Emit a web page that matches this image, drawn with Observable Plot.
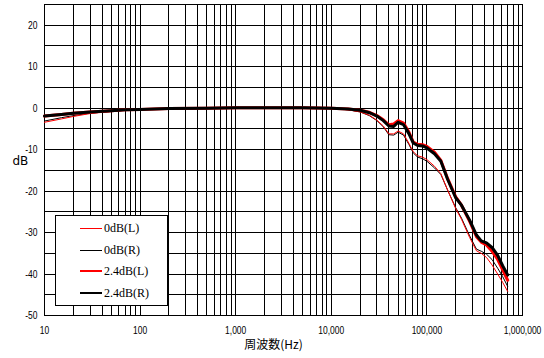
<!DOCTYPE html>
<html><head><meta charset="utf-8">
<script src="https://cdn.jsdelivr.net/npm/d3@7"></script>
<script src="https://cdn.jsdelivr.net/npm/@observablehq/plot@0.6"></script>
<style>
body{margin:0;background:#fff;}
#wrap{position:relative;width:544px;height:358px;}
#legend{position:absolute;left:55px;top:215px;width:113px;height:91px;border:1px solid #000;background:#fff;box-sizing:border-box;font-family:"Liberation Serif","DejaVu Serif",serif;font-size:12px;color:#000;}
.row{position:absolute;left:0;height:14px;}
.sw{position:absolute;left:24px;width:22px;}
.lab{position:absolute;left:48px;white-space:nowrap;line-height:14px;}
</style></head><body><div id="wrap"></div>
<script>
const freq = [10, 15, 20, 30, 50, 70, 100, 200, 500, 1000, 2000, 5000, 10000, 15000, 20000, 25000, 30000, 35000, 40000, 45000, 50000, 57000, 65000, 72000, 80000, 90000, 100000, 120000, 140000, 165000, 200000, 230000, 280000, 330000, 370000, 420000, 480000, 550000, 620000, 700000];
const db0L = [-3.4, -2.6, -2.0, -1.3, -0.8, -0.5, -0.3, -0.1, 0, 0, 0, 0, 0, -0.4, -0.9, -1.7, -2.9, -4.3, -6.2, -6.2, -5.5, -6.2, -8.5, -10.5, -11.5, -11.8, -12.4, -14.0, -15.8, -19.8, -24.2, -26.8, -31.2, -34.4, -35.0, -36.0, -37.8, -40.0, -42.0, -44.2];
const db0R = [-3.1, -2.3, -1.8, -1.2, -0.8, -0.5, -0.3, -0.1, 0, 0, 0, 0, 0, -0.4, -0.9, -1.8, -3.0, -4.5, -6.4, -6.5, -5.8, -6.5, -8.8, -10.8, -11.8, -12.2, -12.8, -14.4, -16.0, -19.8, -24.0, -26.5, -30.8, -34.0, -34.5, -35.2, -36.5, -38.6, -40.6, -43.0];
const db24L = [-1.9, -1.5, -1.2, -0.9, -0.6, -0.4, -0.3, -0.1, 0, 0.1, 0.1, 0.1, 0, -0.2, -0.5, -1.0, -1.8, -2.8, -4.0, -3.8, -3.0, -3.6, -5.8, -8.2, -8.7, -8.8, -9.2, -10.6, -12.6, -17.0, -21.4, -23.4, -27.3, -31.0, -32.3, -33.0, -34.5, -36.5, -39.0, -41.5];
const db24R = [-1.9, -1.5, -1.2, -0.9, -0.6, -0.4, -0.3, -0.1, 0, 0.1, 0.1, 0.1, 0, -0.2, -0.5, -1.1, -1.9, -3.0, -4.3, -4.4, -3.4, -4.0, -6.2, -8.4, -9.0, -9.1, -9.6, -11.0, -12.8, -17.2, -21.6, -23.4, -27.0, -30.6, -32.0, -32.5, -33.6, -35.5, -38.0, -40.2];
const seriesNames = ["0dB(L)", "0dB(R)", "2.4dB(L)", "2.4dB(R)"];
const xTickValues = [10, 100, 1000, 10000, 100000, 1000000];
const yTickValues = [20, 10, 0, -10, -20, -30, -40, -50];

const seriesValues = [db0L, db0R, db24L, db24R];
const colors = ["#ff0000", "#000000", "#ff0000", "#000000"];
const widths = [1, 1, 3, 3];
const legendWidths = [1, 1, 2, 2];
const drawOrder = [1, 0, 2, 3];

const xGrid = [];
for (let d = 10; d < 1e6; d *= 10) for (let m = 1; m < 10; m++) xGrid.push(m * d);
xGrid.push(1e6);
const yGrid = d3.range(-50, 26, 5);

const rows = [];
seriesNames.forEach((name, i) => freq.forEach((f, j) => rows.push({f, v: seriesValues[i][j], name})));

const lineMarks = drawOrder.map(i => Plot.line(rows.filter(r => r.name === seriesNames[i]), {
  x: "f", y: "v", stroke: colors[i], strokeWidth: widths[i], strokeLinejoin: "round"
}));

const chart = Plot.plot({
  width: 544, height: 358,
  marginLeft: 44, marginRight: 22, marginTop: 4, marginBottom: 43,
  x: {type: "log", domain: [10, 1e6]},
  y: {domain: [-50, 25]},
  style: {fontFamily: "'Liberation Sans',sans-serif", fontSize: "11px", background: "#fff", color: "#000"},
  marks: [
    Plot.ruleX(xGrid, {stroke: "#000", strokeWidth: 1, shapeRendering: "crispEdges"}),
    Plot.ruleY(yGrid, {stroke: "#000", strokeWidth: 1, shapeRendering: "crispEdges"}),
    Plot.frame({stroke: "#000", shapeRendering: "crispEdges"}),
    Plot.axisX({ticks: xTickValues, tickFormat: d3.format(","), tickSize: 0, tickPadding: 11, label: null, fontSize: 11}),
    Plot.axisY({ticks: yTickValues, tickFormat: d => String(d), tickSize: 0, tickPadding: 7, label: null, fontSize: 11}),
    ...lineMarks,
    Plot.text(["周波数(Hz)"], {frameAnchor: "bottom", dy: 33, dx: -10, fontSize: 12, fontFamily: "'Noto Sans CJK JP',sans-serif"}),
    Plot.text(["dB"], {frameAnchor: "left", dx: -32, dy: 1, fontSize: 12, fontFamily: "'DejaVu Sans',sans-serif"})
  ]
});
// condense the tick labels horizontally like the narrow bitmap font of the original
d3.select(chart).selectAll('g[aria-label="x-axis tick label"] text, g[aria-label="y-axis tick label"] text')
  .attr("transform", function() { return (this.getAttribute("transform") || "") + " scale(0.77,1)"; });

const wrap = document.getElementById("wrap");
wrap.appendChild(chart);

const legend = document.createElement("div");
legend.id = "legend";
const rowTops = [5, 27, 48, 70];
seriesNames.forEach((name, i) => {
  const r = document.createElement("div");
  r.className = "row";
  r.style.top = rowTops[i] + "px";
  const sw = document.createElement("div");
  sw.className = "sw";
  sw.style.background = colors[i];
  sw.style.height = legendWidths[i] + "px";
  sw.style.top = (7 - Math.floor(legendWidths[i] / 2)) + "px";
  const lab = document.createElement("div");
  lab.className = "lab";
  lab.textContent = name;
  r.appendChild(sw); r.appendChild(lab);
  legend.appendChild(r);
});
wrap.appendChild(legend);
</script>
</body></html>
